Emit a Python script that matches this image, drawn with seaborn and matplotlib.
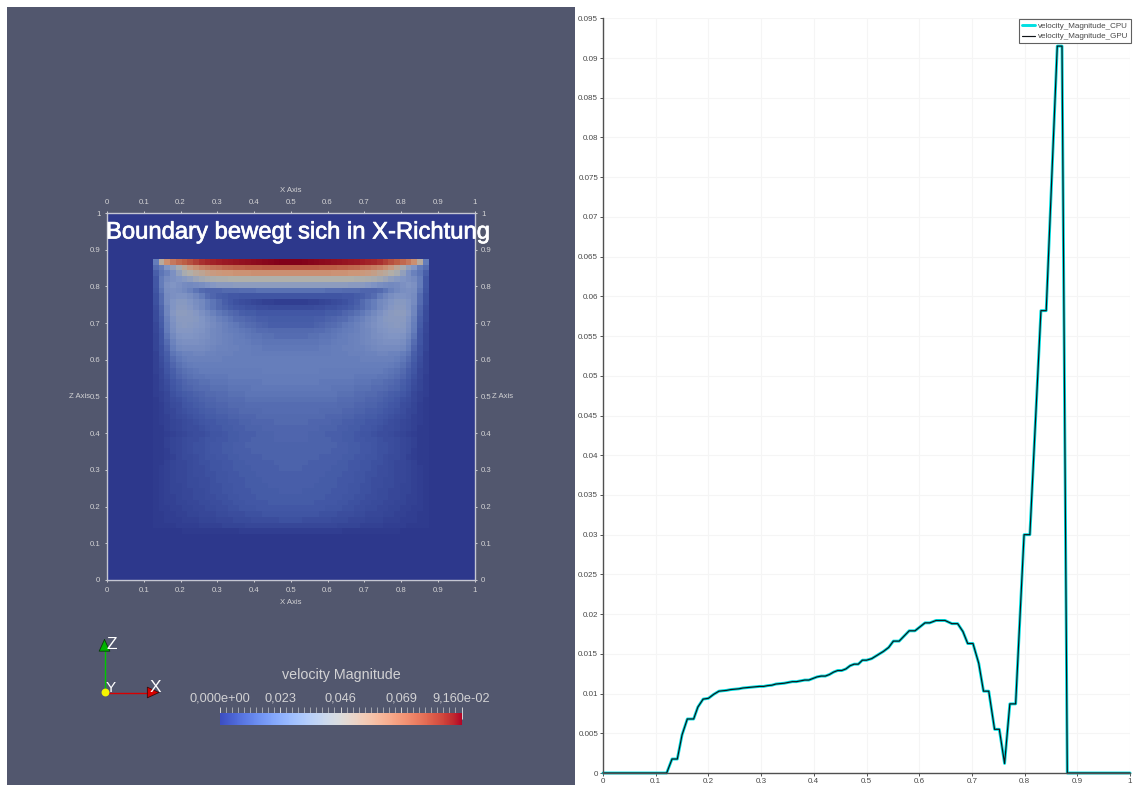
import numpy as np
import pandas as pd
import matplotlib
matplotlib.use('Agg')
import matplotlib.pyplot as plt
import matplotlib.patheffects as pe
import seaborn as sns
from matplotlib.colors import LinearSegmentedColormap, Normalize
from matplotlib.cm import ScalarMappable

# Velocity magnitude along the centre line (right chart)
line_x = [0, 0.1208, 0.131, 0.141, 0.15, 0.16, 0.172, 0.18, 0.19, 0.20, 0.21, 0.22, 0.2266, 0.2344, 0.2422, 0.25,
          0.2578, 0.2656, 0.2734, 0.2813, 0.2891, 0.2969, 0.3047, 0.3125, 0.3203, 0.3281, 0.3359, 0.3438, 0.3516,
          0.3594, 0.3672, 0.375, 0.3828, 0.3906, 0.3984, 0.4063, 0.4141, 0.4219, 0.4297, 0.4375, 0.4453, 0.4531,
          0.4609, 0.4688, 0.4766, 0.4844, 0.4922, 0.50, 0.51, 0.532, 0.542, 0.551, 0.562, 0.581, 0.592, 0.611, 0.62,
          0.632, 0.649, 0.662, 0.673, 0.683, 0.692, 0.702, 0.713, 0.722, 0.732, 0.743, 0.752, 0.762, 0.772, 0.783,
          0.799, 0.81, 0.831, 0.841, 0.862, 0.871, 0.881, 1.0]
line_y = [0, 0, 0.00176, 0.00176, 0.0048, 0.0068, 0.0068, 0.0083, 0.0093, 0.0094, 0.0099, 0.0103, 0.01035, 0.0104,
          0.0105, 0.01055, 0.0106, 0.0107, 0.01075, 0.0108, 0.01085, 0.0109, 0.0109, 0.011, 0.01105, 0.0112, 0.01125,
          0.0113, 0.0114, 0.0115, 0.0115, 0.0116, 0.0117, 0.0117, 0.0119, 0.0121, 0.0122, 0.0122, 0.0124, 0.0127,
          0.0129, 0.0129, 0.0131, 0.0135, 0.0137, 0.0137, 0.0142, 0.0142, 0.0144, 0.0153, 0.0158, 0.0166, 0.0166,
          0.0179, 0.0179, 0.0189, 0.0189, 0.0192, 0.0192, 0.0188, 0.0188, 0.0178, 0.0163, 0.0163, 0.0138, 0.0103,
          0.0103, 0.0055, 0.0055, 0.0012, 0.0087, 0.0087, 0.03, 0.03, 0.0582, 0.0582, 0.0915, 0.0915, 0, 0]

# Left half of the slice inside the box, in percent of the colour scale, top row first
half_box_rows = [
    [20, 50, 62, 68, 72, 75, 78, 81, 84, 86, 87, 88, 90, 91, 92, 93, 94, 95, 96, 97, 98, 99, 100, 100],
    [16, 20, 30, 36, 44, 52, 58, 62, 65, 67, 69, 70, 72, 73, 74, 74, 75, 75, 75, 76, 76, 76, 76, 76],
    [12, 18, 22, 28, 36, 44, 48, 51, 53, 56, 58, 59, 60, 60, 61, 61, 61, 62, 62, 62, 62, 62, 62, 62],
    [10, 20, 26, 28, 30, 32, 35, 39, 42, 44, 45, 46, 46, 47, 47, 47, 47, 47, 47, 47, 47, 47, 47, 47],
    [10, 20, 28, 30, 28, 26, 25, 26, 27, 29, 31, 33, 33, 33, 34, 34, 34, 34, 34, 34, 34, 34, 34, 34],
    [9, 18, 27, 28, 27, 25, 22, 18, 15, 14, 14, 14, 15, 15, 15, 16, 16, 16, 17, 17, 17, 17, 17, 17],
    [8, 16, 26, 28, 29, 29, 27, 24, 20, 16, 14, 12, 11, 10, 10, 9, 9, 9, 9, 9, 9, 9, 9, 9],
    [8, 16, 26, 30, 32, 32, 30, 27, 25, 21, 18, 15, 12, 10, 8, 7, 6, 5, 4, 3, 3, 2, 2, 2],
    [7, 14, 24, 30, 33, 33, 31, 28, 25, 21, 18, 15, 13, 11, 10, 9, 8, 8, 7, 7, 6, 6, 6, 6],
    [6, 13, 24, 31, 34, 34, 33, 31, 28, 25, 22, 19, 17, 15, 14, 12, 11, 11, 10, 10, 10, 10, 10, 10],
    [6, 12, 22, 29, 33, 33, 33, 32, 30, 27, 25, 22, 20, 18, 16, 15, 14, 13, 12, 12, 11, 11, 11, 11],
    [5, 11, 21, 28, 32, 33, 32, 31, 30, 28, 26, 24, 22, 20, 19, 17, 16, 15, 14, 13, 12, 12, 12, 12],
    [5, 10, 20, 27, 31, 31, 31, 30, 29, 27, 25, 24, 22, 21, 20, 19, 18, 17, 16, 16, 15, 15, 15, 15],
    [4, 9, 18, 25, 29, 30, 30, 29, 28, 27, 25, 24, 23, 22, 21, 20, 19, 18, 18, 17, 17, 16, 16, 16],
    [4, 9, 16, 23, 27, 28, 28, 28, 27, 26, 25, 24, 23, 22, 21, 21, 20, 19, 19, 18, 18, 18, 18, 18],
    [4, 8, 14, 21, 25, 26, 26, 26, 26, 25, 24, 23, 23, 22, 22, 21, 21, 20, 20, 19, 19, 19, 19, 19],
    [3, 8, 12, 18, 21, 23, 23, 24, 24, 23, 23, 22, 22, 22, 21, 21, 21, 20, 20, 20, 20, 20, 20, 20],
    [3, 7, 11, 16, 19, 21, 22, 22, 22, 22, 22, 22, 21, 21, 21, 21, 21, 21, 21, 21, 21, 21, 21, 21],
    [3, 6, 10, 14, 17, 19, 20, 21, 21, 21, 21, 21, 21, 21, 21, 21, 21, 21, 21, 21, 21, 21, 21, 21],
    [3, 5, 9, 12, 15, 17, 18, 19, 20, 20, 20, 20, 20, 20, 20, 20, 20, 20, 20, 21, 21, 21, 21, 21],
    [2, 5, 8, 11, 14, 16, 17, 18, 18, 19, 19, 19, 19, 20, 20, 20, 20, 20, 20, 20, 20, 20, 20, 20],
    [2, 4, 7, 10, 12, 14, 15, 16, 17, 17, 18, 18, 18, 19, 19, 19, 19, 19, 19, 20, 20, 20, 20, 20],
    [2, 4, 6, 9, 11, 13, 14, 15, 16, 16, 17, 17, 17, 18, 18, 18, 18, 19, 19, 19, 19, 19, 19, 19],
    [2, 3, 5, 8, 10, 11, 12, 13, 14, 15, 15, 16, 16, 17, 17, 17, 18, 18, 18, 18, 18, 18, 18, 18],
    [1, 3, 5, 7, 8, 10, 11, 12, 13, 14, 14, 15, 15, 16, 16, 16, 17, 17, 17, 17, 17, 17, 17, 17],
    [1, 2, 4, 6, 7, 9, 10, 11, 12, 13, 13, 14, 14, 15, 15, 15, 16, 16, 16, 16, 16, 16, 16, 16],
    [1, 2, 4, 5, 7, 8, 9, 10, 11, 12, 12, 13, 13, 14, 14, 15, 15, 15, 15, 16, 16, 16, 16, 16],
    [1, 2, 3, 5, 6, 7, 8, 9, 10, 11, 11, 12, 12, 13, 13, 14, 14, 14, 15, 15, 15, 15, 15, 15],
    [1, 2, 3, 4, 5, 6, 7, 8, 9, 10, 10, 11, 11, 12, 12, 13, 13, 14, 14, 14, 14, 15, 15, 15],
    [1, 1, 3, 4, 5, 6, 7, 7, 8, 9, 10, 10, 11, 11, 12, 12, 13, 13, 13, 14, 14, 14, 14, 14],
    [1, 1, 2, 3, 4, 5, 6, 7, 7, 8, 9, 9, 10, 11, 11, 12, 12, 12, 13, 13, 13, 14, 14, 14],
    [1, 1, 3, 4, 5, 6, 7, 7, 8, 9, 9, 10, 10, 11, 11, 12, 12, 13, 13, 13, 13, 14, 14, 14],
    [1, 1, 3, 4, 5, 6, 7, 8, 8, 9, 10, 10, 11, 11, 12, 12, 13, 13, 13, 13, 13, 13, 13, 13],
    [1, 1, 2, 4, 5, 6, 7, 8, 8, 9, 10, 10, 11, 11, 12, 12, 12, 13, 13, 13, 13, 13, 13, 13],
    [1, 1, 2, 3, 5, 6, 6, 7, 8, 9, 9, 10, 10, 11, 11, 12, 12, 12, 12, 13, 13, 13, 13, 13],
    [1, 1, 3, 4, 5, 5, 6, 7, 8, 8, 9, 9, 10, 10, 11, 11, 12, 12, 12, 12, 12, 13, 13, 13],
    [1, 2, 3, 4, 5, 5, 6, 7, 7, 8, 9, 9, 10, 10, 11, 11, 11, 12, 12, 12, 12, 12, 13, 13],
    [1, 2, 3, 4, 5, 5, 6, 7, 7, 8, 8, 9, 9, 10, 10, 11, 11, 11, 12, 12, 12, 12, 12, 12],
    [1, 2, 3, 4, 5, 5, 6, 6, 7, 7, 8, 9, 9, 10, 10, 10, 11, 11, 11, 12, 12, 12, 12, 12],
    [1, 2, 3, 4, 4, 5, 6, 6, 7, 7, 8, 8, 9, 9, 10, 10, 11, 11, 11, 11, 12, 12, 12, 12],
    [1, 2, 3, 4, 4, 5, 5, 6, 6, 7, 8, 8, 9, 9, 10, 10, 10, 11, 11, 11, 11, 11, 12, 12],
    [1, 2, 3, 3, 4, 5, 5, 6, 6, 7, 7, 8, 8, 9, 9, 10, 10, 10, 11, 11, 11, 11, 11, 11],
    [1, 2, 3, 3, 4, 4, 5, 5, 6, 6, 7, 7, 8, 8, 9, 9, 10, 10, 10, 10, 11, 11, 11, 11],
    [1, 2, 2, 3, 3, 4, 4, 5, 5, 6, 6, 7, 7, 8, 8, 9, 9, 9, 10, 10, 10, 10, 10, 10],
    [1, 1, 2, 2, 3, 3, 4, 4, 5, 5, 5, 6, 6, 7, 7, 7, 8, 8, 8, 9, 9, 9, 9, 9],
    [1, 1, 2, 2, 2, 3, 3, 3, 4, 4, 4, 5, 5, 5, 6, 6, 6, 7, 7, 7, 7, 7, 8, 8],
    [1, 1, 1, 1, 2, 2, 2, 2, 3, 3, 3, 3, 4, 4, 4, 4, 5, 5, 5, 5, 5, 5, 5, 5],
    [0, 0, 0, 0, 0, 1, 1, 1, 1, 1, 1, 1, 1, 1, 1, 2, 2, 2, 2, 2, 2, 2, 2, 2],
]

slice_ticks = [0, 0.1, 0.2, 0.3, 0.4, 0.5, 0.6, 0.7, 0.8, 0.9, 1]
slice_labels = ['0', '0.1', '0.2', '0.3', '0.4', '0.5', '0.6', '0.7', '0.8', '0.9', '1']
y_ticks = [0, 0.005, 0.01, 0.015, 0.02, 0.025, 0.03, 0.035, 0.04, 0.045, 0.05, 0.055, 0.06, 0.065, 0.07, 0.075,
           0.08, 0.085, 0.09, 0.095]
y_labels = ['0', '0.005', '0.01', '0.015', '0.02', '0.025', '0.03', '0.035', '0.04', '0.045', '0.05', '0.055',
            '0.06', '0.065', '0.07', '0.075', '0.08', '0.085', '0.09', '0.095']
bar_ticks = [0, 0.0229, 0.0458, 0.0687, 0.0916]
bar_labels = ['0,000e+00', '0,023', '0,046', '0,069', '9,160e-02']

W, H = 1134, 785
PANEL = '#52576e'
LIGHT = '#d2d2d4'

sns.set_theme(style='white')
plt.rcParams['font.family'] = ['Liberation Sans', 'DejaVu Sans']


def px_axes(fig, left, top, right, bottom, **kw):
    return fig.add_axes([left / W, 1 - bottom / H, (right - left) / W, (bottom - top) / H], **kw)


fig = plt.figure(figsize=(W / 100, H / 100), dpi=100, facecolor='white')

panel = px_axes(fig, 7, 7, 575, 785, facecolor=PANEL)
panel.set_xticks([])
panel.set_yticks([])
sns.despine(ax=panel, left=True, bottom=True)

# Slice view: the box sits in a 64 x 64 grid
box = np.array(half_box_rows, dtype=float)
box = np.hstack([box, np.fliplr(box)])
grid = np.pad(box, 8, constant_values=0)
slice_cmap = LinearSegmentedColormap.from_list('slice', [
    (0.00, (45 / 255, 56 / 255, 140 / 255)),
    (0.10, (66 / 255, 88 / 255, 165 / 255)),
    (0.20, (100 / 255, 124 / 255, 186 / 255)),
    (0.30, (130 / 255, 150 / 255, 196 / 255)),
    (0.47, (176 / 255, 176 / 255, 170 / 255)),
    (0.60, (205 / 255, 150 / 255, 120 / 255)),
    (0.75, (190 / 255, 95 / 255, 70 / 255)),
    (0.88, (160 / 255, 30 / 255, 38 / 255)),
    (1.00, (130 / 255, 0 / 255, 25 / 255)),
])
ax = px_axes(fig, 107, 213, 474.5, 580)
sns.heatmap(grid, ax=ax, cmap=slice_cmap, vmin=0, vmax=100, cbar=False, xticklabels=False, yticklabels=False)
ax.set_xticks(np.array(slice_ticks) * 64)
ax.set_xticklabels(slice_labels, rotation=0)
ax.set_yticks((1 - np.array(slice_ticks)) * 64)
ax.set_yticklabels(slice_labels, rotation=0)
ax.tick_params(axis='both', top=True, right=True, bottom=True, left=True, labeltop=True, labelright=True,
               labelbottom=True, labelleft=True, length=1.5, width=0.7, pad=3.2, color=LIGHT,
               labelcolor=LIGHT, labelsize=5.6)
for s in ax.spines.values():
    s.set_visible(True)
    s.set_color('#c4c6d2')
    s.set_linewidth(1.0)

# Colour bar
bar_ax = px_axes(fig, 219.5, 713, 461.5, 725)
cb = fig.colorbar(ScalarMappable(Normalize(0, 0.0916), sns.color_palette('coolwarm', as_cmap=True)),
                  cax=bar_ax, orientation='horizontal', ticklocation='top')
cb.set_ticks(bar_ticks)
cb.set_ticklabels(bar_labels)
cb.ax.set_xticks(np.linspace(0, 0.0916, 41), minor=True)
cb.outline.set_visible(False)
cb.ax.tick_params(which='major', direction='inout', length=9, width=0.7, color=LIGHT, labelcolor=LIGHT,
                  labelsize=9.2, pad=1.5)
cb.ax.tick_params(which='minor', direction='out', length=4.3, width=0.7, color='#a4a6ae')

# Line chart
df = pd.DataFrame({'x': line_x, 'velocity_Magnitude_CPU': line_y, 'velocity_Magnitude_GPU': line_y})
chart = px_axes(fig, 603, 18.3, 1130, 773, facecolor='white')
sns.lineplot(data=df, x='x', y='velocity_Magnitude_CPU', ax=chart, color='#00dfe2', linewidth=2.1,
             label='velocity_Magnitude_CPU', estimator=None, sort=False, clip_on=False)
sns.lineplot(data=df, x='x', y='velocity_Magnitude_GPU', ax=chart, color='#101418', linewidth=0.85,
             label='velocity_Magnitude_GPU', estimator=None, sort=False, clip_on=False)
chart.set_xlim(0, 1)
chart.set_ylim(0, 0.095)
chart.set_xlabel('')
chart.set_ylabel('')
chart.set_xticks(slice_ticks)
chart.set_xticklabels(slice_labels)
chart.set_yticks(y_ticks)
chart.set_yticklabels(y_labels)
chart.grid(True, color='#f5f5f5', linewidth=0.8)
chart.set_axisbelow(True)
sns.despine(ax=chart)
for side in ['left', 'bottom']:
    chart.spines[side].set_color('#505050')
    chart.spines[side].set_linewidth(1.0)
chart.tick_params(axis='both', bottom=True, left=True, length=2, width=0.7, color='#505050', labelcolor='#484848',
                  labelsize=5.8, pad=1.5)
leg = chart.legend(loc='upper right', bbox_to_anchor=(1.002, 0.999), fontsize=5.8, frameon=True, fancybox=False,
                   framealpha=1, edgecolor='#606060', borderpad=0.35, handlelength=1.6, handletextpad=0.4,
                   labelspacing=0.4, borderaxespad=0)
leg.get_frame().set_linewidth(0.8)
for t in leg.get_texts():
    t.set_color('#484848')

# Annotations in pixel coordinates
over = fig.add_axes([0, 0, 1, 1], zorder=10)
over.set_xlim(0, W)
over.set_ylim(H, 0)
over.axis('off')
over.patch.set_alpha(0)
over.text(106, 232.5, 'Boundary bewegt sich in X-Richtung', color='white', fontsize=17.15, va='center', ha='left',
          path_effects=[pe.withStroke(linewidth=0.5, foreground='white')])
over.text(290.5, 190.5, 'X Axis', color=LIGHT, fontsize=5.6, ha='center', va='center')
over.text(290.5, 602.5, 'X Axis', color=LIGHT, fontsize=5.6, ha='center', va='center')
over.text(69, 396, 'Z Axis', color=LIGHT, fontsize=5.6, ha='left', va='center')
over.text(492, 396, 'Z Axis', color=LIGHT, fontsize=5.6, ha='left', va='center')
over.text(341, 675, 'velocity Magnitude', color=LIGHT, fontsize=10.3, ha='center', va='center')

# Orientation triad
over.plot([104.5, 104.5], [692, 645], color='#00c800', lw=1.0)
over.plot([104.5, 152], [692.5, 692.5], color='#d80000', lw=1.0)
over.annotate('', xy=(104.5, 638.5), xytext=(104.5, 650),
              arrowprops=dict(arrowstyle='-|>,head_width=0.32,head_length=0.7', fc='#00b400', ec='#0a3a0a', lw=0.6,
                              shrinkA=0, shrinkB=0))
over.annotate('', xy=(160, 692.5), xytext=(148, 692.5),
              arrowprops=dict(arrowstyle='-|>,head_width=0.32,head_length=0.7', fc='#d80000', ec='#3a0a0a', lw=0.6,
                              shrinkA=0, shrinkB=0))
over.scatter([104.5], [692], s=32, color='#f5f500', zorder=5, linewidths=0)
over.text(111.5, 644.5, 'Z', color='white', fontsize=12.5, ha='center', va='center')
over.text(111, 688, 'Y', color='white', fontsize=11, ha='center', va='center')
over.text(155.5, 687.5, 'X', color='white', fontsize=12.5, ha='center', va='center')

fig.savefig('out.png', dpi=100)
